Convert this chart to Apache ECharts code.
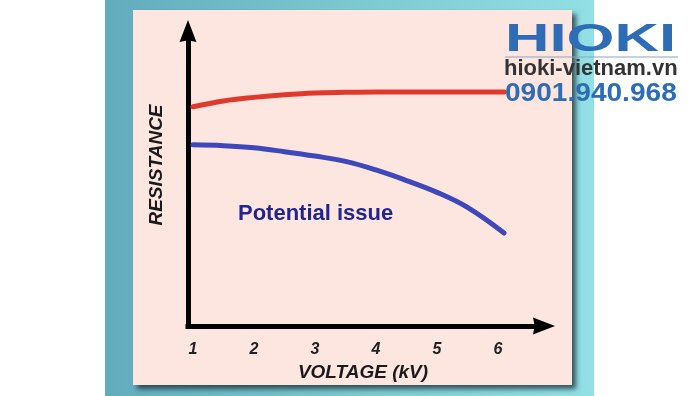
<!DOCTYPE html>
<html>
<head>
<meta charset="utf-8">
<script src="https://cdn.jsdelivr.net/npm/echarts@6/dist/echarts.min.js"></script>
<style>
html,body{margin:0;padding:0;background:#ffffff;}
#chart{width:700px;height:396px;}
</style>
</head>
<body>
<div id="chart"></div>
<script>
// ---- data ----
const voltage = [1, 1.5, 2, 2.5, 3, 3.5, 4, 4.5, 5, 5.5, 6.1];
const normalResistance = [74.3, 76.3, 77.5, 78.4, 79.0, 79.2, 79.3, 79.3, 79.3, 79.3, 79.3];
const issueResistance = [61.4, 61.1, 60.4, 59.1, 57.6, 55.8, 52.9, 49.3, 45.3, 40.2, 31.5];
const xTickLabels = [1, 2, 3, 4, 5, 6];
const xAxisName = 'VOLTAGE (kV)';
const yAxisName = 'RESISTANCE';
const annotation = 'Potential issue';

const FONT = '"Liberation Sans", Arial, sans-serif';
const pair = (xs, ys) => xs.map((x, i) => [x, ys[i]]);
const ARROW = 'path://M5,0 L10,13 L5,12 L0,13 Z';

const chart = echarts.init(document.getElementById('chart'), null, {renderer: 'canvas'});
chart.setOption({
  animation: false,
  backgroundColor: '#ffffff',
  graphic: [
    {
      type: 'rect', z: -10, silent: true,
      shape: {x: 105, y: 0, width: 489, height: 396},
      style: {fill: new echarts.graphic.LinearGradient(0, 0, 1, 0, [
        {offset: 0, color: '#62abbd'},
        {offset: 0.5, color: '#7cc8cf'},
        {offset: 1, color: '#92dfe6'}
      ])}
    },
    {
      type: 'rect', z: -9, silent: true,
      shape: {x: 133, y: 10, width: 439, height: 375},
      style: {fill: '#fde6df', shadowColor: 'rgba(20,40,45,0.75)', shadowBlur: 5, shadowOffsetX: 4, shadowOffsetY: 4}
    },
    {
      type: 'text', z: 10, silent: true,
      left: 238, top: 203,
      style: {text: annotation, font: 'bold 22px ' + FONT, fill: '#22268c'}
    },
    {
      type: 'text', z: 20, silent: true,
      x: 505, y: 21, scaleX: 1.58, scaleY: 0.98,
      style: {text: 'HIOKI', font: 'bold 39px ' + FONT, fill: '#2e6db5', textVerticalAlign: 'top'}
    },
    {
      type: 'line', z: 20, silent: true,
      shape: {x1: 505, y1: 57, x2: 678, y2: 57},
      style: {stroke: '#8aa4c4', lineWidth: 1}
    },
    {
      type: 'text', z: 20, silent: true,
      x: 504, y: 58,
      style: {text: 'hioki-vietnam.vn', font: 'bold 22px ' + FONT, fill: '#333333'}
    },
    {
      type: 'text', z: 20, silent: true,
      x: 505, y: 81, scaleX: 1.08,
      style: {text: '0901.940.968', font: 'bold 26px ' + FONT, fill: '#2e6db5'}
    }
  ],
  grid: {left: 188, right: 156, top: 31, bottom: 70, containLabel: false},
  xAxis: {
    type: 'value',
    min: 0.918, max: 6.754,
    name: xAxisName,
    nameLocation: 'middle',
    nameGap: 37,
    nameTextStyle: {fontFamily: FONT, fontSize: 19, fontWeight: 'bold', fontStyle: 'italic', color: '#1a1a1a', padding: [0, 6, 0, 0]},
    axisLine: {show: true, symbol: ['none', ARROW], symbolSize: [17, 22],
      lineStyle: {color: '#000000', width: 5, cap: 'square'}},
    axisTick: {show: false},
    splitLine: {show: false},
    axisLabel: {
      customValues: xTickLabels,
      margin: 16,
      fontFamily: FONT, fontSize: 16, fontWeight: 'bold', fontStyle: 'italic', color: '#222222',
      formatter: v => String(v)
    }
  },
  yAxis: {
    type: 'value',
    min: 0, max: 100,
    name: yAxisName,
    nameLocation: 'middle',
    nameGap: 22,
    nameTextStyle: {fontFamily: FONT, fontSize: 19, fontWeight: 'bold', fontStyle: 'italic', color: '#1a1a1a', padding: [0, 0, 0, 27]},
    axisLine: {show: true, symbol: ['none', ARROW], symbolSize: [17, 22],
      lineStyle: {color: '#000000', width: 5, cap: 'square'}},
    axisTick: {show: false},
    axisLabel: {show: false},
    splitLine: {show: false}
  },
  series: [
    {
      name: 'Normal', type: 'line', smooth: 0.4, symbol: 'none',
      data: pair(voltage, normalResistance),
      lineStyle: {color: '#e03a2c', width: 5, cap: 'round'}
    },
    {
      name: 'Potential issue', type: 'line', smooth: 0.4, symbol: 'none',
      data: pair(voltage, issueResistance),
      lineStyle: {color: '#3f47bd', width: 5, cap: 'round'}
    }
  ]
});
</script>
</body>
</html>
